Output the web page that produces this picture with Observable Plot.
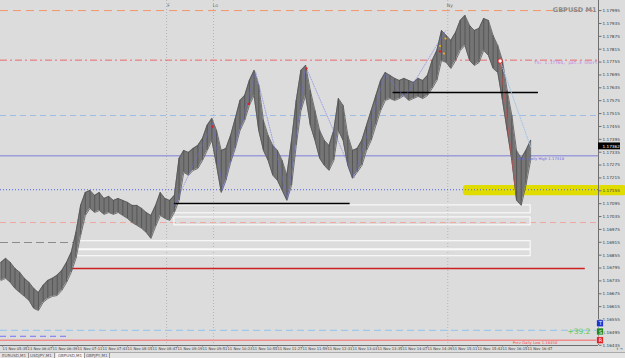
<!DOCTYPE html>
<html><head><meta charset="utf-8">
<script src="https://cdn.jsdelivr.net/npm/d3@7"></script>
<script src="https://cdn.jsdelivr.net/npm/@observablehq/plot@0.6"></script>
<style>
html,body{margin:0;padding:0;background:#dcdcdc;overflow:hidden;width:625px;height:358px}
#chart svg{display:block;background:#dcdcdc}
#tabs{height:6px;position:relative;font:4px "DejaVu Sans",sans-serif;color:#555;border-top:1px solid #aaa;background:#e4e4e4}
#tabs span{position:absolute;top:0;height:6px;line-height:6px;padding:0 2px;border-right:1px solid #999}
#tabs span.on{background:#f4f4f4}
</style></head><body><div id="chart"></div><div id="tabs"></div>
<script>
// ---- data ----
const firstBar = "05:33";           // first sampled bar time
const barStep = 6;                  // minutes between samples
const highs = [1.16821,1.16840,1.16821,1.16793,1.16775,1.16747,1.16728,1.16700,1.16681,1.16714,
1.16737,1.16747,1.16761,1.16784,1.16821,1.16868,1.16961,1.17087,1.17147,1.17157,
1.17133,1.17147,1.17119,1.17129,1.17110,1.17119,1.17110,1.17101,1.17087,1.17087,
1.17073,1.17054,1.17040,1.17087,1.17147,1.17119,1.17110,1.17133,1.17306,1.17343,
1.17334,1.17352,1.17366,1.17399,1.17460,1.17492,1.17436,1.17343,1.17352,1.17413,
1.17492,1.17576,1.17599,1.17669,1.17716,1.17646,1.17483,1.17413,1.17366,1.17343,
1.17296,1.17227,1.17390,1.17576,1.17716,1.17739,1.17623,1.17529,1.17436,1.17390,
1.17366,1.17436,1.17585,1.17553,1.17413,1.17343,1.17352,1.17390,1.17460,1.17529,
1.17599,1.17669,1.17706,1.17693,1.17679,1.17669,1.17679,1.17669,1.17660,1.17679,
1.17669,1.17693,1.17762,1.17809,1.17902,1.17879,1.17856,1.17893,1.17949,1.17972,
1.17925,1.17902,1.17912,1.17958,1.17949,1.17879,1.17832,1.17762,1.17623,1.17506,
1.17343,1.17306,1.17343,1.17390];
const lows = [1.16737,1.16747,1.16728,1.16700,1.16681,1.16663,1.16644,1.16607,1.16597,1.16635,
1.16653,1.16663,1.16667,1.16691,1.16728,1.16775,1.16840,1.16947,1.17040,1.17073,
1.17054,1.17063,1.17045,1.17054,1.17045,1.17054,1.17040,1.17026,1.17007,1.16994,
1.16980,1.16961,1.16933,1.16989,1.17040,1.17026,1.17017,1.17054,1.17110,1.17241,
1.17227,1.17250,1.17259,1.17296,1.17343,1.17390,1.17273,1.17147,1.17203,1.17287,
1.17352,1.17436,1.17483,1.17553,1.17599,1.17436,1.17343,1.17296,1.17227,1.17203,
1.17157,1.17110,1.17180,1.17366,1.17529,1.17599,1.17460,1.17390,1.17306,1.17273,
1.17250,1.17296,1.17436,1.17390,1.17273,1.17213,1.17241,1.17273,1.17343,1.17390,
1.17460,1.17529,1.17576,1.17585,1.17576,1.17585,1.17599,1.17576,1.17585,1.17595,
1.17585,1.17599,1.17632,1.17669,1.17762,1.17753,1.17725,1.17762,1.17809,1.17832,
1.17762,1.17739,1.17753,1.17809,1.17786,1.17725,1.17706,1.17576,1.17436,1.17296,
1.17110,1.17087,1.17180,1.17296];
const yTicks = [1.17995,1.17935,1.17875,1.17815,1.17755,1.17695,1.17635,1.17575,1.17515,1.17455,
1.17395,1.17335,1.17275,1.17215,1.17155,1.17095,1.17035,1.16975,1.16915,1.16855,1.16795,
1.16735,1.16675,1.16615,1.16555,1.16495,1.16435];
const xTickLabels = ["05:35","06:07","06:39","07:11","07:43","08:15","08:47","09:19","09:51","10:23",
"10:55","11:27","11:59","12:31","13:03","13:35","14:07","14:39","15:11","15:43","16:15","16:47"];
const sessionNames = ["F","Lo","Ny"];
const sessionTimes = ["09:05","10:05","15:05"];
const symbolTitle = "GBPUSD M1";
const topLevel = 1.17995;
const shortLevel = 1.17764, shortText = "TS: 1.17764, pat.3 Short";
const blueLevel = 1.17506;
const prevHigh = 1.17318, prevHighText = "Prev Daily High 1.17318";
const dottedLevel = 1.17160;
const pinkLevel = 1.17007;
const grayLevel = 1.16914;
const redLevel = 1.16793;
const lightBlueLow = 1.16505;
const violetLow = 1.16477;
const prevLow = 1.16458, prevLowText = "Prev Daily Low 1.16458";
const blackLines = [{from:"13:55", to:"17:01", price:1.17613},{from:"09:15", to:"13:00", price:1.17096}];
const boxes = [{from:"09:15", to:"16:51", top:1.17087, bottom:1.17050},
               {from:"09:15", to:"16:51", top:1.17031, bottom:1.16994},
               {from:"07:10", to:"16:51", top:1.16920, bottom:1.16882},
               {from:"07:10", to:"16:51", top:1.16878, bottom:1.16850}];
const highlightFrom = "15:25", highlightTop = 1.17180, highlightBottom = 1.17132;
const zigzag = [["09:15",1.17087],["10:04",1.17470],["10:17",1.17160],["10:59",1.17710],
                ["11:40",1.17115],["12:03",1.17735],["13:05",1.17215],["13:45",1.17700],
                ["14:10",1.17590],["15:02",1.17900]];
const fallLine = [["16:12",1.17760],["16:51",1.17360]];
const fallRed = [["16:12",1.17760],["16:32",1.17150]];
const circleMark = [["16:12",1.17760]];
const redDots = [["14:55",1.17805],["10:04",1.17455],["12:04",1.17725],["10:50",1.17560]];
const yellowDots = [["14:55",1.17830],["15:02",1.17865],["15:00",1.17795]];
const lastPrice = 1.17362;
const profitText = "+39.2";
const tabNames = ["EURUSD,M1","USDJPY,M1","GBPUSD,M1","GBPJPY,M1"];

// ---- helpers ----
const toMin = s => { const [h,m] = s.split(":").map(Number); return h*60+m; };
const fmt = m => "11 Nov " + String(Math.floor(m/60)).padStart(2,"0") + ":" + String(m%60).padStart(2,"0");
const t0 = toMin(firstBar);
const bars = highs.map((h,i) => ({t: t0 + i*barStep, hi: h, lo: lows[i]}));
const xMin = 332.4, xMax = 1097.9;
const yMin = 1.16434, yMax = 1.18042;
const pts = a => a.map(([t,p]) => ({t: toMin(t), p}));

const chart = Plot.plot({
  width: 625, height: 352,
  marginLeft: 0, marginRight: 27, marginTop: 0, marginBottom: 7,
  style: {background: "#dcdcdc", fontFamily: "DejaVu Sans, sans-serif"},
  x: {domain: [xMin, xMax], axis: null},
  y: {domain: [yMin, yMax], axis: null},
  marks: [
    Plot.ruleX(sessionTimes.map(toMin), {stroke: "#b4b4b4", strokeDasharray: "1,2"}),
    Plot.text(sessionNames, {x: (d,i) => toMin(sessionTimes[i]), frameAnchor: "top", dy: 3, dx: 2, fontSize: 4.5, fill: "#666", text: d => d}),
    Plot.rect([0], {x1: toMin(highlightFrom), x2: xMax + 28*1.28, y1: highlightBottom, y2: highlightTop, fill: "#e0dc00", rx: 3}),
    Plot.ruleY([topLevel], {stroke: "#f2956a", strokeWidth: 1, strokeDasharray: "8,5"}),
    Plot.ruleY([shortLevel], {stroke: "#e66a6a", strokeWidth: 1, strokeDasharray: "7,3,2,3"}),
    Plot.ruleY([blueLevel], {stroke: "#9dbde6", strokeWidth: 1, strokeDasharray: "6,4"}),
    Plot.ruleY([prevHigh], {stroke: "#7e7ed8", strokeWidth: 1}),
    Plot.ruleY([dottedLevel], {stroke: "#5060f0", strokeWidth: 1, strokeDasharray: "1,2"}),
    Plot.ruleY([pinkLevel], {stroke: "#efa6a0", strokeWidth: 1, strokeDasharray: "6,4"}),
    Plot.ruleY([grayLevel], {x1: xMin, x2: toMin("07:08"), stroke: "#8a8a8a", strokeWidth: 1, strokeDasharray: "8,4"}),
    Plot.ruleY([lightBlueLow], {stroke: "#8ec2ee", strokeWidth: 1, strokeDasharray: "7,4"}),
    Plot.ruleY([violetLow], {x1: xMin, x2: toMin("07:00"), stroke: "#7272f6", strokeWidth: 1, strokeDasharray: "6,4"}),
    Plot.ruleY([prevLow], {stroke: "#f08c8c", strokeWidth: 1.5}),
    Plot.ruleY([redLevel], {x1: toMin("07:04"), x2: toMin("18:01"), stroke: "#cc2020", strokeWidth: 1.5}),
    Plot.rect(boxes, {x1: d => toMin(d.from), x2: d => toMin(d.to), y1: "bottom", y2: "top", fill: "none", stroke: "#ffffff", strokeWidth: 1}),
    // price bars
    Plot.areaY(bars, {x: "t", y1: "lo", y2: "hi", fill: "#757575", curve: "linear"}),
    Plot.ruleX(bars, {x: "t", y1: "lo", y2: "hi", stroke: "#4a4a4a", strokeWidth: 0.7}),
    Plot.line(bars, {x: "t", y: "hi", stroke: "#555", strokeWidth: 0.8}),
    Plot.line(bars, {x: "t", y: "lo", stroke: "#555", strokeWidth: 0.8}),
    Plot.ruleY(blackLines, {y: "price", x1: d => toMin(d.from), x2: d => toMin(d.to), stroke: "#000", strokeWidth: 1.6}),
    Plot.line(pts(zigzag), {x: "t", y: "p", stroke: "#6a72e8", strokeOpacity: 0.8, strokeWidth: 0.7, strokeDasharray: "1,1.5"}),
    Plot.line(pts(fallLine), {x: "t", y: "p", stroke: "#9fc4ea", strokeWidth: 1, strokeDasharray: "1,1.5"}),
    Plot.line(pts(fallRed), {x: "t", y: "p", stroke: "#e05050", strokeWidth: 0.8, strokeDasharray: "1,1.5"}),
    Plot.dot(pts(redDots), {x: "t", y: "p", r: 1.2, fill: "#e02020"}),
    Plot.dot(pts(yellowDots), {x: "t", y: "p", r: 1.1, fill: "#f0b020"}),
    Plot.dot(pts(circleMark), {x: "t", y: "p", r: 2.2, stroke: "#e02020", strokeWidth: 1, fill: "#fff"}),
    Plot.text([symbolTitle], {frameAnchor: "top-right", dy: 7, dx: -2, fontSize: 6.5, fontWeight: "bold", fill: "#8a8a8a", text: d => d}),
    Plot.text([shortText], {x: xMax, y: shortLevel, dy: 2, dx: -1, textAnchor: "end", fontSize: 4.4, fill: "#c47ae4", fontFamily: "DejaVu Sans Mono", text: d => d}),
    Plot.text([prevHighText], {x: toMin("16:35"), y: prevHigh, dy: 2.5, textAnchor: "start", fontSize: 3.8, fill: "#6868e0", text: d => d}),
    Plot.text([prevLowText], {x: toMin("16:28"), y: prevLow, dy: 2.8, textAnchor: "start", fontSize: 3.8, fill: "#ee5050", text: d => d}),
    Plot.text([profitText], {x: xMax, y: lightBlueLow, dy: 1, dx: -8, textAnchor: "end", fontSize: 7.5, fill: "#5acb5a", text: d => d}),
    Plot.ruleX([xMax], {stroke: "#6e6e6e"}),
    Plot.ruleY([yMin], {stroke: "#6e6e6e"}),
    Plot.rect([lastPrice], {x1: xMax, x2: xMax + 22*1.28, y1: d => d - 0.00016, y2: d => d + 0.00016, fill: "#000"}),
    Plot.axisY(yTicks, {anchor: "right", tickSize: 2.5, tickPadding: 1.5, fontSize: 4.2, fill: "#3a3a3a", stroke: "#6e6e6e", tickFormat: d => d.toFixed(5)}),
    Plot.text([lastPrice], {x: xMax, y: d => d, dx: 4, textAnchor: "start", fontSize: 4.2, fill: "#fff", text: d => d.toFixed(5)}),
    Plot.axisX(xTickLabels.map(toMin), {anchor: "bottom", tickSize: 1.5, tickPadding: 0.5, fontSize: 3.7, fill: "#3a3a3a", stroke: "#6e6e6e", textAnchor: "start", dx: 0, tickFormat: fmt}),
    Plot.text(["T","S","R"], {x: xMax, y: [1.16535, 1.16497, 1.16456], dx: 2, textAnchor: "middle", fontSize: 5, fill: "#fff", text: d => d}),
  ]
});
document.getElementById("chart").appendChild(chart);

const sx = chart.scale("x"), sy = chart.scale("y");
const svg = d3.select(chart);
const btn = [["T","#2233cc",1.16535],["S","#228822",1.16497],["R","#dd2222",1.16456]];
const g = svg.append("g");
btn.forEach(([l,c,p]) => {
  g.append("rect").attr("x", sx.apply(xMax) - 1.5).attr("y", sy.apply(p) - 3.5).attr("width", 7).attr("height", 7)
   .attr("fill", c).attr("stroke", "#eee").attr("stroke-width", 0.6);
});
svg.selectAll("g[aria-label='text']").filter((d,i,n) => i === n.length - 1).raise();

const tabs = document.getElementById("tabs");
let left = 0;
tabNames.forEach((n,i) => {
  const s = document.createElement("span");
  s.textContent = n; s.style.left = left + "px";
  if (i === 2) s.className = "on";
  tabs.appendChild(s); left += 28;
});
</script></body></html>
